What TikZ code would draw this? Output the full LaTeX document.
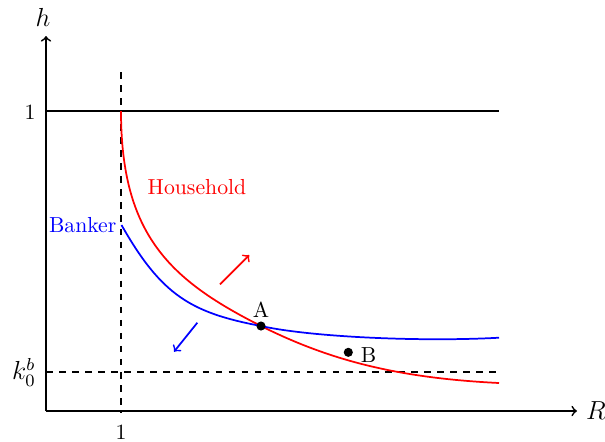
\documentclass[tikz,border=0pt]{standalone}
\begin{document}
\begin{tikzpicture}[x=0.46pt,y=-0.46pt,
  axisline/.style={thick,->},
  hhline/.style={thick},
  guide/.style={thick,dashed},
  hcurve/.style={thick,red},
  bcurve/.style={thick,blue},
  dotpt/.style={circle,fill=black,inner sep=0pt,minimum size=4.2pt}]
\useasboundingbox (0,0) rectangle (605,441);
% axes
\coordinate (O) at (46,411);
\coordinate (xend) at (577,411);
\coordinate (yend) at (46,36);
\draw[axisline] (O) -- (xend);
\draw[axisline] (O) -- (yend);
\node[font=\large,inner sep=0pt] (Rl) at (596,411) {$R$};
\node[font=\large,inner sep=0pt] (hl) at (43,17) {$h$};
% h = 1 line
\coordinate (one0) at (46,111);
\coordinate (one1) at (499,111);
\draw[hhline] (one0) -- (one1);
\node[inner sep=0pt] (onel) at (30,112) {$1$};
% k0b dashed
\coordinate (k0) at (46,372);
\coordinate (k1) at (499,372);
\draw[guide] (k0) -- (k1);
\node[font=\large,inner sep=0pt] (kl) at (24,372) {$k_0^b$};
% R = 1 dashed
\coordinate (v0) at (121,72);
\coordinate (v1) at (121,413);
\draw[guide] (v0) -- (v1);
\node[inner sep=0pt] (onex) at (121,432) {$1$};
% curve points
\coordinate (hs) at (121,111);
\coordinate (he) at (499,383);
\coordinate (bs) at (121.5,225);
\coordinate (be) at (499,337.7);
\coordinate (Ap) at (261,326);
% household curve
\draw[hcurve] (hs) .. controls (121,235) and (170,280) .. (Ap)
  .. controls (331,361) and (399,378) .. (he);
% banker curve
\draw[bcurve] (bs) .. controls (161.5,295.4) and (191,312.7) .. (Ap)
  .. controls (311,337) and (420,342) .. (be);
\node[red] (hh) at (197,187) {Household};
\node[blue] (bk) at (82.7,225) {Banker};
% points
\node[dotpt] (A) at (Ap) {};
\node[anchor=south,inner sep=2pt] (Al) at (261,322) {A};
\node[dotpt] (B) at (348.3,352.3) {};
\node[anchor=west,inner sep=2pt] (Bl) at (356,355.5) {B};
% shift arrows
\coordinate (ra0) at (220,284.3);
\coordinate (ra1) at (249.3,255);
\draw[thick,red,->] (ra0) -- (ra1);
\coordinate (ba0) at (197.3,322.7);
\coordinate (ba1) at (174,351.7);
\draw[thick,blue,->] (ba0) -- (ba1);
\end{tikzpicture}
\end{document}
